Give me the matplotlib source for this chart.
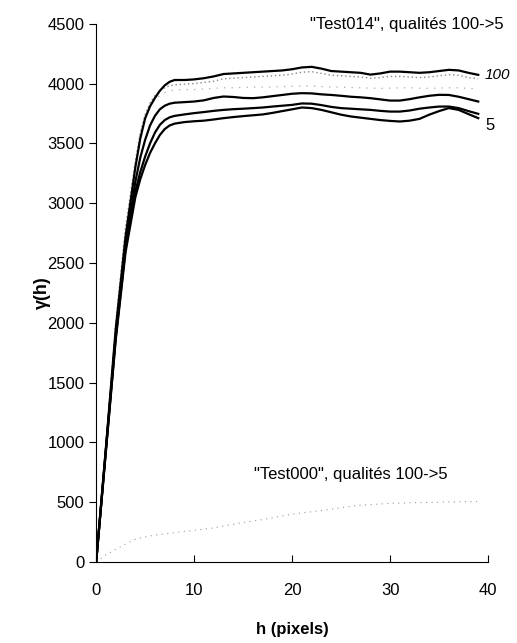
import numpy as np
import matplotlib
matplotlib.use('Agg')
import matplotlib.pyplot as plt

plt.rcParams['font.family'] = ['Liberation Sans', 'DejaVu Sans']

# lag distance h (pixels), finer around the knee of the curves
h = [0, 1, 2, 3, 4, 4.5, 5, 5.5, 6, 6.5, 7, 7.5, 8] + list(range(9, 40))

# Test014 variograms, qualities 100 -> 5
q100 = [0, 960, 1950, 2720, 3300, 3540, 3710, 3810, 3880, 3940, 3985, 4015, 4030,
        4030, 4035, 4045, 4060, 4080, 4085, 4090, 4095, 4100, 4105, 4110,
        4120, 4135, 4140, 4125, 4105, 4100, 4095, 4090, 4075, 4085,
        4100, 4100, 4095, 4090, 4095, 4105, 4115, 4110, 4090, 4073]
q75 = [0, 1000, 2000, 2800, 3350, 3590, 3740, 3840, 3900, 3940, 3965, 3982, 3990,
       3995, 4000, 4010, 4020, 4040, 4045, 4050, 4055, 4060, 4065, 4070,
       4080, 4095, 4100, 4085, 4070, 4065, 4060, 4055, 4045, 4050,
       4060, 4060, 4055, 4050, 4055, 4065, 4075, 4070, 4050, 4040]
q50 = [0, 990, 1980, 2780, 3340, 3580, 3720, 3810, 3865, 3900, 3925, 3940, 3945,
       3950, 3950, 3955, 3960, 3965, 3965, 3968, 3970, 3970, 3972, 3975,
       3978, 3980, 3980, 3975, 3972, 3970, 3968, 3965, 3962, 3960,
       3962, 3965, 3965, 3962, 3960, 3962, 3965, 3965, 3960, 3955]
q25 = [0, 950, 1900, 2660, 3180, 3380, 3530, 3650, 3730, 3785, 3815, 3832, 3840,
       3845, 3850, 3860, 3880, 3892, 3888, 3880, 3878, 3885, 3895, 3905,
       3915, 3920, 3918, 3910, 3905, 3898, 3890, 3885, 3878, 3868,
       3858, 3858, 3870, 3885, 3898, 3906, 3905, 3890, 3870, 3850]
q10 = [0, 940, 1880, 2620, 3100, 3260, 3390, 3500, 3590, 3655, 3695, 3718, 3730,
       3742, 3753, 3762, 3772, 3780, 3786, 3790, 3795, 3800, 3808, 3815,
       3822, 3834, 3832, 3820, 3805, 3795, 3790, 3785, 3780, 3772,
       3766, 3766, 3775, 3790, 3800, 3808, 3808, 3795, 3770, 3747]
q5 = [0, 930, 1860, 2590, 3050, 3200, 3320, 3420, 3500, 3570, 3620, 3650, 3665,
      3678, 3685, 3690, 3700, 3711, 3720, 3728, 3735, 3742, 3755, 3770,
      3785, 3800, 3795, 3780, 3760, 3740, 3725, 3715, 3705, 3695,
      3688, 3683, 3690, 3705, 3740, 3770, 3795, 3780, 3745, 3711]

# Test000 variogram
h0 = list(range(0, 40))
t000 = [0, 60, 105, 150, 190, 210, 225, 235, 245, 255,
        265, 275, 285, 300, 315, 330, 342, 355, 370, 385,
        400, 410, 420, 430, 440, 455, 465, 475, 480, 485,
        490, 492, 495, 497, 498, 500, 502, 503, 504, 505]

fig = plt.figure(figsize=(5.17, 6.43), dpi=100)
ax = fig.add_axes([0.186, 0.126, 0.758, 0.837])

ax.plot(h0, t000, color='#999999', lw=0.8, ls=(0, (1, 4)))
ax.plot(h, q75, color='#888888', lw=1.0, ls=(0, (1, 2)))
ax.plot(h, q50, color='#aaaaaa', lw=0.9, ls=(0, (1, 5)))
for q in [q100, q25, q10, q5]:
    ax.plot(h, q, color='black', lw=1.6)

ax.text(39.7, 4073, '100', fontsize=11, style='italic', va='center', ha='left')
ax.text(39.7, 3650, '5', fontsize=12, va='center', ha='left')
ax.text(41.6, 4490, '"Test014", qualités 100->5', fontsize=12, ha='right',
        va='center', clip_on=False)
ax.text(26, 730, '"Test000", qualités 100->5', fontsize=12, ha='center', va='center')

ax.set_xlim(0, 40)
ax.set_ylim(0, 4500)
ax.set_xticks([0, 10, 20, 30, 40])
ax.set_yticks(np.arange(0, 4501, 500))
ax.spines['top'].set_visible(False)
ax.spines['right'].set_visible(False)
ax.tick_params(axis='x', direction='in', length=5, labelsize=12, pad=15)
ax.tick_params(axis='y', direction='out', length=5, labelsize=12)

ax.set_xlabel('h (pixels)', fontsize=12, fontweight='bold')
ax.xaxis.set_label_coords(0.5, -0.112)
ax.set_ylabel('γ(h)', fontsize=13, fontweight='bold')
ax.yaxis.set_label_coords(-0.115, 0.5)

fig.savefig('out.png', dpi=100)
